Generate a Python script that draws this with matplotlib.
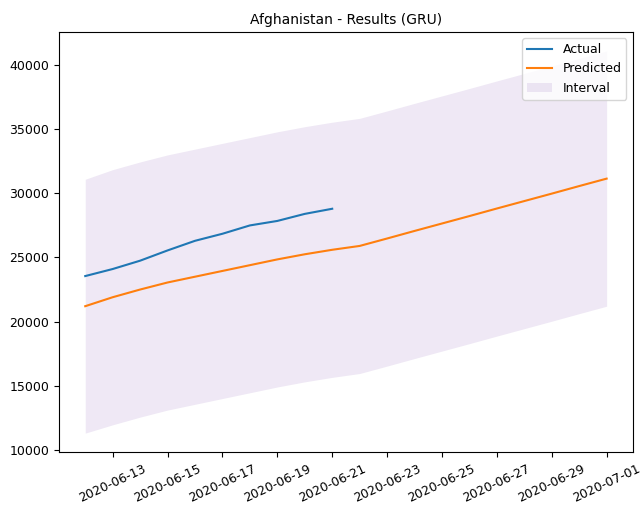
import numpy as np
import pandas as pd
import matplotlib
matplotlib.use('Agg')
import matplotlib.pyplot as plt

dates_actual = pd.date_range('2020-06-12', '2020-06-21')
dates_pred = pd.date_range('2020-06-12', '2020-07-01')

actual = [23550, 24100, 24750, 25550, 26300, 26850, 27500, 27850, 28400, 28800]
predicted = [21200, 21900, 22500, 23050, 23500, 23950, 24400, 24850, 25250, 25600,
             25900, 26480, 27070, 27650, 28230, 28820, 29400, 29980, 30570, 31150]
lower = [11300, 11950, 12550, 13100, 13550, 14000, 14450, 14900, 15300, 15650,
         15950, 16530, 17120, 17700, 18280, 18870, 19450, 20030, 20620, 21200]
upper = [31100, 31850, 32450, 33000, 33450, 33900, 34350, 34800, 35200, 35550,
         35850, 36430, 37020, 37600, 38180, 38770, 39350, 39930, 40520, 41100]

fig = plt.figure(figsize=(6.43, 5.07), dpi=100)
ax = fig.add_axes([0.092, 0.108, 0.892, 0.829])

ax.plot(dates_actual, actual, label='Actual')
ax.plot(dates_pred, predicted, label='Predicted')
ax.fill_between(dates_pred, lower, upper, color='tab:purple', alpha=0.15, linewidth=0, label='Interval')

ax.set_xticks(pd.date_range('2020-06-13', '2020-07-01', freq='2D'))
ax.xaxis.set_major_formatter(matplotlib.dates.DateFormatter('%Y-%m-%d'))
plt.setp(ax.get_xticklabels(), rotation=25)
ax.tick_params(labelsize=9)
ax.set_yticks([10000, 15000, 20000, 25000, 30000, 35000, 40000])

ax.set_title('Afghanistan - Results (GRU)', fontsize=10)
ax.legend(loc='upper right', fontsize=9)

fig.savefig('out.png', dpi=100)
